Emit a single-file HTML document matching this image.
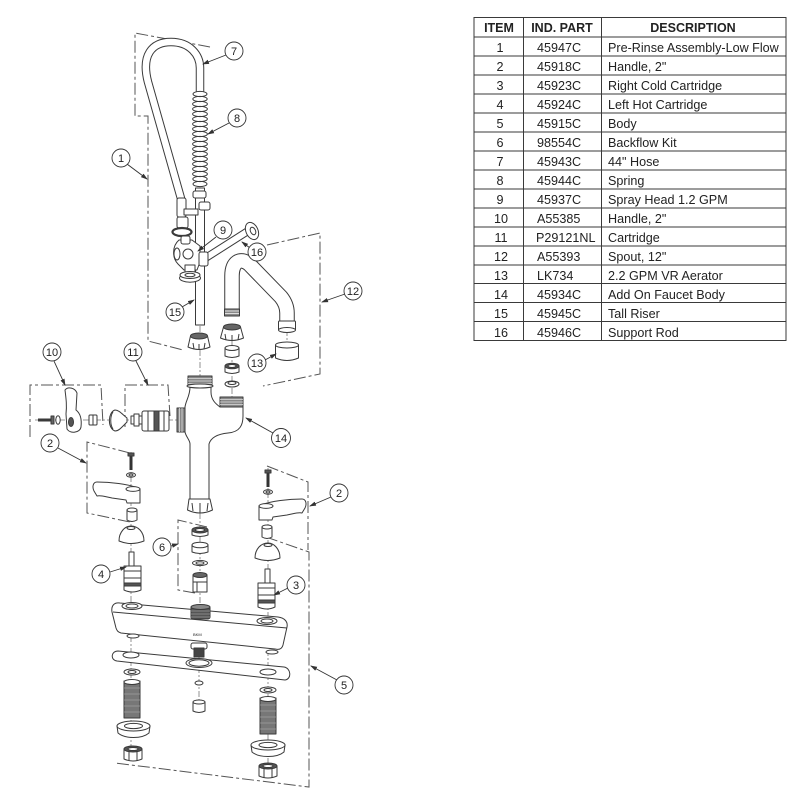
<!DOCTYPE html>
<html><head><meta charset="utf-8">
<style>
html,body{margin:0;padding:0;background:#fff;}
svg{display:block;}
text{font-family:"Liberation Sans",Arial,sans-serif;fill:#222;}
</style></head><body>
<svg width="800" height="800" viewBox="0 0 800 800" xmlns="http://www.w3.org/2000/svg">
<defs>
<marker id="a" markerWidth="7" markerHeight="6" refX="6" refY="3" orient="auto" markerUnits="userSpaceOnUse"><path d="M0,0.8 L7,3 L0,5.2 Z" fill="#333"/></marker>
</defs>
<rect width="800" height="800" fill="#fff"/>

<!-- ================= TABLE ================= -->
<g stroke="#3a3a3a" stroke-width="1" fill="none">
<rect x="474" y="17.5" width="312" height="323"/>
<line x1="523.5" y1="17.5" x2="523.5" y2="340.5"/>
<line x1="601.5" y1="17.5" x2="601.5" y2="340.5"/>
<line x1="474" y1="37" x2="786" y2="37"/>
<line x1="474" y1="56" x2="786" y2="56"/>
<line x1="474" y1="75" x2="786" y2="75"/>
<line x1="474" y1="94" x2="786" y2="94"/>
<line x1="474" y1="113" x2="786" y2="113"/>
<line x1="474" y1="132" x2="786" y2="132"/>
<line x1="474" y1="151" x2="786" y2="151"/>
<line x1="474" y1="170" x2="786" y2="170"/>
<line x1="474" y1="189" x2="786" y2="189"/>
<line x1="474" y1="208" x2="786" y2="208"/>
<line x1="474" y1="227" x2="786" y2="227"/>
<line x1="474" y1="246" x2="786" y2="246"/>
<line x1="474" y1="265" x2="786" y2="265"/>
<line x1="474" y1="283.5" x2="786" y2="283.5"/>
<line x1="474" y1="302.5" x2="786" y2="302.5"/>
<line x1="474" y1="321.5" x2="786" y2="321.5"/>
</g>
<g font-size="12.5" font-weight="bold" text-anchor="middle">
<text x="499" y="32">ITEM</text>
<text x="562" y="32">IND. PART</text>
<text x="693" y="32">DESCRIPTION</text>
</g>
<g font-size="12.6">
<g text-anchor="middle">
<text x="500" y="52">1</text><text x="500" y="71">2</text><text x="500" y="90">3</text><text x="500" y="109">4</text>
<text x="500" y="128">5</text><text x="500" y="147">6</text><text x="500" y="166">7</text><text x="500" y="185">8</text>
<text x="500" y="204">9</text><text x="501" y="223">10</text><text x="501" y="242">11</text><text x="501" y="261">12</text>
<text x="501" y="280">13</text><text x="501" y="299">14</text><text x="501" y="318">15</text><text x="501" y="337">16</text>
</g>
<text x="537" y="52">45947C</text><text x="537" y="71">45918C</text><text x="537" y="90">45923C</text><text x="537" y="109">45924C</text>
<text x="537" y="128">45915C</text><text x="537" y="147">98554C</text><text x="537" y="166">45943C</text><text x="537" y="185">45944C</text>
<text x="537" y="204">45937C</text><text x="537" y="223">A55385</text><text x="536" y="242">P29121NL</text><text x="537" y="261">A55393</text>
<text x="537" y="280">LK734</text><text x="537" y="299">45934C</text><text x="537" y="318">45945C</text><text x="537" y="337">45946C</text>
<text x="608" y="52">Pre-Rinse Assembly-Low Flow</text>
<text x="608" y="71">Handle, 2"</text>
<text x="608" y="90">Right Cold Cartridge</text>
<text x="608" y="109">Left Hot Cartridge</text>
<text x="608" y="128">Body</text>
<text x="608" y="147">Backflow Kit</text>
<text x="608" y="166">44" Hose</text>
<text x="608" y="185">Spring</text>
<text x="608" y="204">Spray Head 1.2 GPM</text>
<text x="608" y="223">Handle, 2"</text>
<text x="608" y="242">Cartridge</text>
<text x="608" y="261">Spout, 12"</text>
<text x="608" y="280">2.2 GPM VR Aerator</text>
<text x="608" y="299">Add On Faucet Body</text>
<text x="608" y="318">Tall Riser</text>
<text x="608" y="337">Support Rod</text>
</g>

<!-- ================= BRACKETS (dashed) ================= -->
<g fill="none" stroke="#555" stroke-width="1" stroke-dasharray="12 3 3 3">
<polyline points="210,47 135,33 135,116 148,116 148,341 183,350"/>
<polyline points="267,245 320,233 320,374 263,386"/>
<polyline points="30,437 30,385 101,385 103,425"/>
<polyline points="125,427 125,385 168,385 170,416"/>
<polyline points="130,453 87,442 87,513 130,522"/>
<polyline points="267,466 308,482 308,550"/>
<polyline points="266,537 309,552 309,787 115,763"/>
<polyline points="207,527 178,520 178,590 195,593"/>
</g>

<!-- center axis lines -->
<g fill="none" stroke="#777" stroke-width="0.8" stroke-dasharray="6 2 2 2">
<line x1="200" y1="326" x2="200" y2="376"/>
<line x1="232" y1="340" x2="232" y2="398"/>
<line x1="287" y1="330" x2="287" y2="344"/>
<line x1="35" y1="420" x2="177" y2="420"/>
<line x1="131" y1="452" x2="131" y2="602"/>
<line x1="268" y1="468" x2="268" y2="618"/>
<line x1="200" y1="513" x2="200" y2="606"/>
<line x1="131" y1="612" x2="131" y2="750"/>
<line x1="199" y1="655" x2="199" y2="702"/>
<line x1="268" y1="626" x2="268" y2="766"/>
</g>

<!-- ================= DRAWING ================= -->
<g stroke="#3a3a3a" stroke-width="1" fill="#fff" stroke-linejoin="round">

<!-- hose -->
<path d="M182,202 L148,82 C141,55 152,42 171,42 C190,42 200,55 200,68 L200,92" fill="none" stroke="#3a3a3a" stroke-width="8.5"/>
<path d="M182,202 L148,82 C141,55 152,42 171,42 C190,42 200,55 200,68 L200,92" fill="none" stroke="#fff" stroke-width="6.5"/>

<!-- riser -->
<rect x="195.5" y="188" width="9" height="137"/>
<rect x="193" y="191" width="13" height="7" rx="2"/>

<!-- spring -->
<g fill="none">
<ellipse cx="200" cy="94" rx="7" ry="2.6"/><ellipse cx="200" cy="99" rx="7.2" ry="2.6"/>
<ellipse cx="200" cy="104" rx="7.4" ry="2.6"/><ellipse cx="200" cy="109" rx="7.4" ry="2.6"/>
<ellipse cx="200" cy="114" rx="7.4" ry="2.6"/><ellipse cx="200" cy="119" rx="7.4" ry="2.6"/>
<ellipse cx="200" cy="124" rx="7.4" ry="2.6"/><ellipse cx="200" cy="129" rx="7.4" ry="2.6"/>
<ellipse cx="200" cy="134" rx="7.4" ry="2.6"/><ellipse cx="200" cy="139" rx="7.4" ry="2.6"/>
<ellipse cx="200" cy="144" rx="7.4" ry="2.6"/><ellipse cx="200" cy="149" rx="7.4" ry="2.6"/>
<ellipse cx="200" cy="154" rx="7.4" ry="2.6"/><ellipse cx="200" cy="159" rx="7.4" ry="2.6"/>
<ellipse cx="200" cy="164" rx="7.4" ry="2.6"/><ellipse cx="200" cy="169" rx="7.4" ry="2.6"/>
<ellipse cx="200" cy="174" rx="7.4" ry="2.6"/><ellipse cx="200" cy="179" rx="7.2" ry="2.6"/>
<ellipse cx="200" cy="184" rx="7" ry="2.6"/>
</g>

<!-- hose fittings + clamp -->
<rect x="177" y="198" width="9" height="19" rx="2"/>
<rect x="184" y="209" width="14" height="6"/>
<rect x="199" y="202" width="11" height="8" rx="2"/>
<rect x="177" y="217" width="11" height="11" rx="2"/>
<ellipse cx="182" cy="232" rx="9.5" ry="4" fill="none" stroke-width="2.2"/>

<!-- spray valve (9) -->
<path d="M179,240 C172,246 172,258 178,264 L184,270 L197,270 L200,262 L200,246 L192,240 Z"/>
<rect x="181" y="236" width="9" height="8" rx="2"/>
<ellipse cx="188" cy="254" rx="5" ry="5"/>
<ellipse cx="177" cy="254" rx="3" ry="6"/>
<rect x="185" y="265" width="10" height="8"/>
<ellipse cx="190" cy="278" rx="10.5" ry="4.2"/>
<ellipse cx="190" cy="275" rx="10" ry="3.5"/>
<ellipse cx="190" cy="275" rx="5" ry="1.8"/>

<!-- support rod (16) -->
<path d="M204,259 L248,231" fill="none" stroke="#3a3a3a" stroke-width="8"/>
<path d="M204,259 L248,231" fill="none" stroke="#fff" stroke-width="6"/>
<rect x="199" y="252" width="9" height="14" rx="2"/>
<ellipse cx="252" cy="231" rx="6" ry="9" transform="rotate(-25 252 231)"/>
<ellipse cx="253" cy="231" rx="2.5" ry="4" transform="rotate(-25 253 231)"/>

<!-- spout (12) -->
<path d="M232,313 L232,276 C232,262 240,257 249,264 L281,297 C285,302 287,307 287,313 L287,326" fill="none" stroke="#3a3a3a" stroke-width="15.5"/>
<path d="M232,313 L232,276 C232,262 240,257 249,264 L281,297 C285,302 287,307 287,313 L287,326" fill="none" stroke="#fff" stroke-width="13.5"/>
<rect x="224.5" y="309" width="15" height="7" fill="#888"/>
<line x1="225" y1="311" x2="239" y2="311" stroke="#ddd"/>
<line x1="225" y1="313.5" x2="239" y2="313.5" stroke="#ddd"/>
<rect x="278.5" y="321" width="17" height="9" rx="1"/>
<ellipse cx="287" cy="330" rx="8.5" ry="2.5"/>

<!-- aerator (13) -->
<path d="M275.5,345 L275.5,358 Q287,363 298.5,358 L298.5,345 Z"/>
<ellipse cx="287" cy="345" rx="11.5" ry="3"/>

<!-- riser nut -->
<path d="M190.5,336 L188,347 Q199,352 210,347 L207.5,336 Z"/>
<ellipse cx="199" cy="336" rx="8.5" ry="3" fill="#666"/>
<path d="M193,343 L194,349 M199,344 L199,350 M205,343 L204,349" fill="none"/>

<!-- spout nut -->
<path d="M223.5,327 L220.5,338 Q232,343 243.5,338 L240.5,327 Z"/>
<ellipse cx="232" cy="327" rx="8.5" ry="3" fill="#666"/>
<path d="M225,334 L226,340 M232,335 L232,341 M239,334 L238,340" fill="none"/>

<!-- rings under spout nut -->
<path d="M225,348 L225,356 Q232,359 239,356 L239,348 Z"/>
<ellipse cx="232" cy="348" rx="7" ry="2.5"/>
<path d="M225,366 L225,372 Q232,375 239,372 L239,366 Z"/>
<ellipse cx="232" cy="366" rx="7" ry="2.8" fill="#555"/>
<ellipse cx="232" cy="366" rx="4" ry="1.5"/>
<ellipse cx="232" cy="384" rx="7" ry="3"/>
<ellipse cx="232" cy="383" rx="4" ry="1.5"/>

<!-- add-on body (14) -->
<path d="M190,387 C190,396 186,400 185,407 L185,432 C186,437 190,440 190,444 L190,499 L209,499 L209,444 C211,437 218,434 228,433 C240,432 243,425 243,416 L243,407 L220,407 C216,404 211,400 211,392 L211,387 Z"/>
<rect x="188" y="376" width="24" height="9" fill="#888"/>
<g stroke="#ddd" stroke-width="0.8"><line x1="188" y1="378.5" x2="212" y2="378.5"/><line x1="188" y1="381" x2="212" y2="381"/><line x1="188" y1="383.5" x2="212" y2="383.5"/></g>
<ellipse cx="200" cy="386" rx="13" ry="2"/>
<rect x="220" y="397" width="23" height="10" fill="#888"/>
<g stroke="#ddd" stroke-width="0.8"><line x1="220" y1="399.5" x2="243" y2="399.5"/><line x1="220" y1="402" x2="243" y2="402"/><line x1="220" y1="404.5" x2="243" y2="404.5"/></g>
<rect x="177" y="408" width="8" height="24" fill="#888"/>
<g stroke="#ddd" stroke-width="0.8"><line x1="179.5" y1="408" x2="179.5" y2="432"/><line x1="182" y1="408" x2="182" y2="432"/></g>
<path d="M189,499 L210,499 L212.5,510 Q200,516 187.5,510 Z"/>
<path d="M192,503 L193,511 M200,503 L200,513 M208,503 L207,511" fill="none"/>

<!-- left side parts (10, 11) -->
<line x1="38" y1="420" x2="52" y2="420" stroke-width="3"/>
<rect x="51" y="416" width="3" height="8" fill="#666"/>
<ellipse cx="58" cy="420" rx="2.2" ry="4.2"/>
<path d="M65,390 C68,386 75,388 77,393 L76,410 C80,413 82,418 81,427 C80,433 70,434 67,429 L66,414 C67,405 66,398 65,390 Z"/>
<ellipse cx="71" cy="422" rx="2.5" ry="4.5" fill="#555"/>
<rect x="89" y="415" width="8" height="10" rx="1"/>
<line x1="93" y1="415" x2="93" y2="425"/>
<path d="M115,410 C108,412 107,428 115,431 C119,431 122,427 127,422 L127,418 C122,414 119,410 115,410 Z"/>
<path d="M113,412 C110,416 110,425 113,429" fill="none"/>
<rect x="131" y="416" width="11" height="8"/>
<rect x="134" y="414" width="5" height="12"/>
<rect x="142" y="411" width="27" height="20" rx="2"/>
<rect x="154" y="411" width="5" height="20" fill="#555"/>
<line x1="148" y1="411" x2="148" y2="431"/>
<line x1="164" y1="411" x2="164" y2="431"/>

<!-- left handle set (2) + cartridge 4 -->
<g id="hl">
<line x1="131" y1="456" x2="131" y2="470" stroke-width="3" stroke="#333"/>
<rect x="128" y="453" width="6" height="3" fill="#555"/>
<ellipse cx="131" cy="475" rx="4.5" ry="2.2"/>
<ellipse cx="131" cy="475" rx="2" ry="1"/>
<path d="M138,488 C128,484 110,482 97,482 C93,482 92,487 94,491 L97,496 C101,495 106,497 112,498 L126,500 L127,503 L140,503 L140,489 Z"/>
<ellipse cx="133" cy="489" rx="7" ry="2.4"/>
<path d="M127,510 L127,520 Q132,523 137,520 L137,510 Z"/>
<ellipse cx="132" cy="510" rx="5" ry="2"/>
<path d="M119,541 C119,532 125,526 131,526 C138,526 144,532 144,541 Q131,546 119,541 Z"/>
<ellipse cx="131" cy="528" rx="4" ry="1.5"/>
<rect x="129" y="552" width="5" height="14"/>
<path d="M124,566 L141,566 L141,590 Q132,594 124,590 Z"/>
<line x1="124" y1="571" x2="141" y2="571"/>
<line x1="124" y1="578" x2="141" y2="578"/>
<rect x="124" y="583" width="17" height="3" fill="#555"/>
</g>
<!-- right handle set (mirror) -->
<use href="#hl" transform="translate(399,17) scale(-1,1)"/>

<!-- backflow kit (6) -->
<path d="M192,530 L192,535 Q200,538 208,535 L208,530 Z"/>
<ellipse cx="200" cy="530" rx="8" ry="3" fill="#555"/>
<ellipse cx="200" cy="530" rx="4.5" ry="1.5"/>
<path d="M192,545 L192,552 Q200,555 208,552 L208,545 Z"/>
<ellipse cx="200" cy="545" rx="8" ry="2.8"/>
<ellipse cx="200" cy="563" rx="7.5" ry="2.6"/>
<ellipse cx="200" cy="563" rx="4" ry="1.3"/>
<path d="M193,575 L193,592 L207,592 L207,575 Z"/>
<ellipse cx="200" cy="575" rx="7" ry="2.5" fill="#666"/>
<line x1="193" y1="582" x2="207" y2="582"/>
<line x1="197" y1="582" x2="197" y2="592"/>

<!-- base body (5) -->
<path d="M120,603 L278,617 C285,618 288,622 287,627 L283,645 C282,649 279,650 275,649 L121,633 C118,632 117,631 116,628 L112,612 C111,606 114,602 120,603 Z"/>
<path d="M113,612 L287,628" fill="none"/>
<ellipse cx="132" cy="606" rx="10" ry="3.5"/>
<ellipse cx="132" cy="606" rx="6" ry="2"/>
<ellipse cx="267" cy="621" rx="10" ry="3.5"/>
<ellipse cx="267" cy="621" rx="6" ry="2"/>
<rect x="191" y="606" width="19" height="13" rx="2" fill="#555"/>
<ellipse cx="200.5" cy="607" rx="9.5" ry="2.5" fill="#888"/>
<g stroke="#999" stroke-width="0.7"><line x1="191" y1="611" x2="210" y2="611"/><line x1="191" y1="614" x2="210" y2="614"/><line x1="191" y1="617" x2="210" y2="617"/></g>
<ellipse cx="133" cy="636" rx="6" ry="2"/>
<ellipse cx="272" cy="652" rx="6" ry="2"/>
<rect x="191" y="643" width="16" height="6" rx="2"/>
<rect x="194" y="648" width="10" height="9" fill="#444"/>

<!-- gasket plate -->
<path d="M118,651 L284,667 C291,668 292,679 285,680 L117,661 C110,660 111,651 118,651 Z"/>
<ellipse cx="131" cy="655" rx="8" ry="3"/>
<ellipse cx="199" cy="663" rx="13" ry="4.5"/>
<ellipse cx="199" cy="663" rx="10" ry="3.2"/>
<ellipse cx="268" cy="672" rx="8" ry="3"/>

<!-- left under parts -->
<ellipse cx="132" cy="672" rx="8" ry="3"/>
<ellipse cx="132" cy="672" rx="4" ry="1.5"/>
<rect x="124" y="681" width="16" height="37" fill="#777"/>
<g stroke="#aaa" stroke-width="0.6"><line x1="124" y1="688" x2="140" y2="688"/><line x1="124" y1="694" x2="140" y2="694"/><line x1="124" y1="700" x2="140" y2="700"/><line x1="124" y1="706" x2="140" y2="706"/><line x1="124" y1="712" x2="140" y2="712"/></g>
<ellipse cx="132" cy="682" rx="8" ry="2.5"/>
<path d="M117,726 L118,733 C125,739 142,739 149,733 L150,726 Z"/>
<ellipse cx="133.5" cy="726" rx="16.5" ry="5"/>
<ellipse cx="133.5" cy="726" rx="9" ry="2.6"/>
<path d="M124,749 L124,759 Q133,763 142,759 L142,749 Z"/>
<ellipse cx="133" cy="749" rx="9" ry="3" fill="#555"/>
<ellipse cx="133" cy="749" rx="5" ry="1.5"/>
<line x1="129" y1="751" x2="129" y2="761"/><line x1="137" y1="751" x2="137" y2="761"/>

<!-- center under parts -->
<ellipse cx="199" cy="683" rx="4" ry="2"/>
<path d="M193,702 L193,711 Q199,714 205,711 L205,702 Z"/>
<ellipse cx="199" cy="702" rx="6" ry="2"/>

<!-- right under parts -->
<ellipse cx="268" cy="690" rx="8" ry="3"/>
<ellipse cx="268" cy="690" rx="4" ry="1.5"/>
<rect x="260" y="698" width="16" height="36" fill="#777"/>
<g stroke="#aaa" stroke-width="0.6"><line x1="260" y1="705" x2="276" y2="705"/><line x1="260" y1="711" x2="276" y2="711"/><line x1="260" y1="717" x2="276" y2="717"/><line x1="260" y1="723" x2="276" y2="723"/><line x1="260" y1="729" x2="276" y2="729"/></g>
<ellipse cx="268" cy="699" rx="8" ry="2.5"/>
<path d="M251,745 L252,752 C259,758 277,758 284,752 L285,745 Z"/>
<ellipse cx="268" cy="745" rx="17" ry="5"/>
<ellipse cx="268" cy="745" rx="9" ry="2.6"/>
<path d="M259,766 L259,776 Q268,780 277,776 L277,766 Z"/>
<ellipse cx="268" cy="766" rx="9" ry="3" fill="#555"/>
<ellipse cx="268" cy="766" rx="5" ry="1.5"/>
<line x1="264" y1="768" x2="264" y2="778"/><line x1="272" y1="768" x2="272" y2="778"/>
</g>
<text x="193" y="636" font-size="4" fill="#555">BKM</text>

<!-- ================= LEADERS ================= -->
<g stroke="#333" stroke-width="0.9" fill="none" marker-end="url(#a)">
<line x1="226" y1="55" x2="203" y2="64"/>
<line x1="229" y1="123" x2="208" y2="134"/>
<line x1="127" y1="164" x2="147" y2="179"/>
<line x1="216" y1="237" x2="198" y2="251"/>
<line x1="250" y1="248" x2="242" y2="242"/>
<line x1="182" y1="307" x2="194" y2="300"/>
<line x1="345" y1="294" x2="322" y2="302"/>
<line x1="265" y1="360" x2="276" y2="354"/>
<line x1="54" y1="361" x2="65" y2="385"/>
<line x1="136" y1="361" x2="148" y2="385"/>
<line x1="273" y1="433" x2="246" y2="418"/>
<line x1="58" y1="448" x2="86" y2="463"/>
<line x1="331" y1="497" x2="310" y2="506"/>
<line x1="171" y1="546" x2="178" y2="544"/>
<line x1="110" y1="572" x2="126" y2="567"/>
<line x1="288" y1="588" x2="274" y2="595"/>
<line x1="337" y1="680" x2="311" y2="666"/>
</g>

<!-- ================= CALLOUTS ================= -->
<g fill="#fff" stroke="#333" stroke-width="0.9">
<circle cx="234" cy="51" r="9"/>
<circle cx="237" cy="118" r="9"/>
<circle cx="121" cy="158" r="9"/>
<circle cx="223" cy="230" r="9"/>
<circle cx="257" cy="252" r="9"/>
<circle cx="175" cy="312" r="9"/>
<circle cx="353" cy="291" r="9"/>
<circle cx="257" cy="363" r="9"/>
<circle cx="52" cy="352" r="9"/>
<circle cx="133" cy="352" r="9"/>
<circle cx="281" cy="438" r="9.5"/>
<circle cx="50" cy="443" r="9"/>
<circle cx="339" cy="493" r="9"/>
<circle cx="162" cy="547" r="9"/>
<circle cx="101" cy="574" r="9"/>
<circle cx="296" cy="585" r="9"/>
<circle cx="344" cy="685" r="9"/>
</g>
<g font-size="11" text-anchor="middle">
<text x="234" y="55">7</text>
<text x="237" y="122">8</text>
<text x="121" y="162">1</text>
<text x="223" y="234">9</text>
<text x="257" y="256">16</text>
<text x="175" y="316">15</text>
<text x="353" y="295">12</text>
<text x="257" y="367">13</text>
<text x="52" y="356">10</text>
<text x="133" y="356">11</text>
<text x="281" y="442">14</text>
<text x="50" y="447">2</text>
<text x="339" y="497">2</text>
<text x="162" y="551">6</text>
<text x="101" y="578">4</text>
<text x="296" y="589">3</text>
<text x="344" y="689">5</text>
</g>
</svg>
</body></html>
